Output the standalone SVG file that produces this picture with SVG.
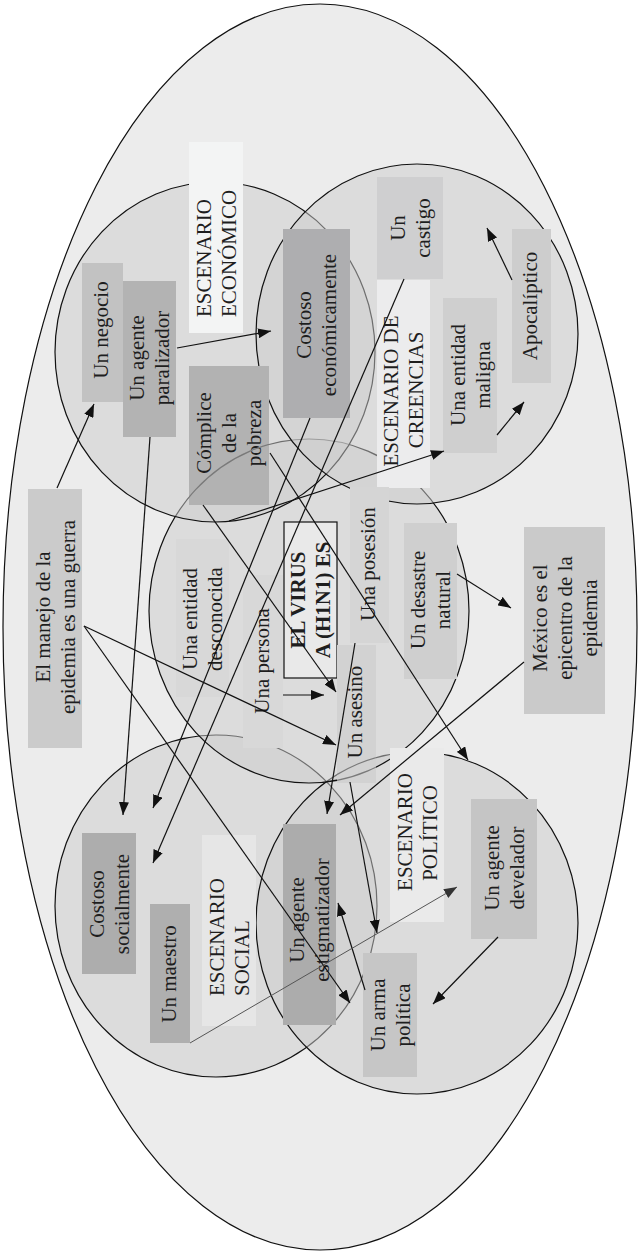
<svg xmlns="http://www.w3.org/2000/svg" width="639" height="1254" viewBox="0 0 639 1254">
<style>
.t{font-family:"Liberation Serif","Times New Roman",serif;font-size:21px;fill:#1e1e1e;text-anchor:middle}
.s{text-anchor:start}
.b{font-weight:bold}
.c{fill:#cccccc;fill-opacity:0.5;stroke:#111;stroke-width:1.2}
.g{fill:none;stroke:#7a7a7a;stroke-width:1.2}
.cn line{stroke:#111;stroke-width:1.2;fill:none;marker-end:url(#ah)}
.cn line.gr{stroke:#555;stroke-width:1;marker-end:url(#ahg)}
</style>
<defs>
<marker id="ah" markerUnits="userSpaceOnUse" markerWidth="14" markerHeight="10" refX="13" refY="5" orient="auto"><path d="M0,0 L13,5 L0,10 z" fill="#111"/></marker>
<marker id="ahg" markerUnits="userSpaceOnUse" markerWidth="14" markerHeight="10" refX="13" refY="5" orient="auto"><path d="M0,0 L13,5 L0,10 z" fill="#333"/></marker>
<clipPath id="bx"><rect x="189" y="366" width="80" height="139"/><rect x="337" y="645" width="39" height="138"/></clipPath>
</defs>
<g id="outer"><ellipse cx="320" cy="627" rx="317" ry="623" fill="#ececec" stroke="#111" stroke-width="1.2"/></g>
<g id="scenarios">
<ellipse id="c-social" class="c" cx="216" cy="906" rx="161" ry="171"/>
<ellipse id="c-politico" class="c" cx="417" cy="923" rx="161" ry="171"/>
<ellipse id="c-virus" class="c" cx="309" cy="611" rx="160" ry="172"/>
<ellipse id="c-economico" class="c" cx="215" cy="352" rx="160" ry="170"/>
<ellipse id="c-creencias" class="c" cx="417" cy="334" rx="161" ry="170"/>
</g>
<g id="n-negocio"><rect x="82" y="263" width="41" height="139" fill="#c2c2c2"/><text class="t" transform="translate(108,330) rotate(-90)">Un negocio</text></g>
<g id="n-paralizador"><rect x="123" y="281" width="53" height="156" fill="#b3b3b3"/><text class="t" transform="translate(144,358) rotate(-90)">Un agente</text><text class="t" transform="translate(169,358) rotate(-90)">paralizador</text></g>
<g id="n-esc-economico"><rect x="189" y="142" width="54" height="191" fill="#f3f4f4"/><text class="t s" transform="translate(210.5,317) rotate(-90)">ESCENARIO</text><text class="t s" transform="translate(235.5,317) rotate(-90)">ECONÓMICO</text></g>
<g id="n-costoso-eco"><rect x="283" y="229" width="67" height="189" fill="#aeaeb0"/><text class="t" transform="translate(311,325) rotate(-90)">Costoso</text><text class="t" transform="translate(336,325) rotate(-90)">económicamente</text></g>
<g id="n-complice"><rect x="189" y="366" width="80" height="139" fill="#b2b2b2"/><text class="t" transform="translate(211,433) rotate(-90)">Cómplice</text><text class="t" transform="translate(236,433) rotate(-90)">de la</text><text class="t" transform="translate(261,433) rotate(-90)">pobreza</text></g>
<g id="n-castigo"><rect x="377" y="177" width="66" height="102" fill="#cfcfd0"/><text class="t" transform="translate(404.5,228) rotate(-90)">Un</text><text class="t" transform="translate(429.5,228) rotate(-90)">castigo</text></g>
<g id="n-esc-creencias"><rect x="377" y="280" width="53" height="208" fill="#ececed"/><text class="t" transform="translate(398,391) rotate(-90)">ESCENARIO DE</text><text class="t" transform="translate(423,390) rotate(-90)">CREENCIAS</text></g>
<g id="n-maligna"><rect x="443" y="298" width="54" height="155" fill="#cfcfcf"/><text class="t" transform="translate(464.5,375) rotate(-90)">Una entidad</text><text class="t" transform="translate(489.5,375) rotate(-90)">maligna</text></g>
<g id="n-apocaliptico"><rect x="512" y="229" width="39" height="154" fill="#cdcdcd"/><text class="t" transform="translate(537,306) rotate(-90)">Apocalíptico</text></g>
<g id="n-guerra"><rect x="28" y="489" width="54" height="259" fill="#cbcbcb"/><text class="t" transform="translate(49.5,617) rotate(-90)">El manejo de la</text><text class="t" transform="translate(74.5,617) rotate(-90)">epidemia es una guerra</text></g>
<g id="n-desconocida"><rect x="176" y="539" width="53" height="158" fill="#d8d8d8"/><text class="t" transform="translate(197,619) rotate(-90)">Una entidad</text><text class="t" transform="translate(222,619) rotate(-90)">desconocida</text></g>
<g id="n-persona"><rect x="243" y="575" width="40" height="173" fill="#d8d8d8"/><text class="t" transform="translate(269,661) rotate(-90)">Una persona</text></g>
<g id="n-virus"><rect x="284" y="522" width="53" height="156" fill="#e9e9e9" stroke="#111" stroke-width="1.2"/><text class="t b" transform="translate(305,600) rotate(-90)">EL VIRUS</text><text class="t b" transform="translate(330,600) rotate(-90)">A (H1N1) ES</text></g>
<g id="n-posesion"><rect x="350" y="487" width="39" height="156" fill="#d5d5d5"/><text class="t" transform="translate(375,564) rotate(-90)">Una posesión</text></g>
<g id="n-asesino"><rect x="337" y="645" width="39" height="138" fill="#d2d2d2"/><text class="t" transform="translate(362,712) rotate(-90)">Un asesino</text></g>
<g id="n-desastre"><rect x="404" y="523" width="53" height="156" fill="#cfcfcf"/><text class="t" transform="translate(425,600) rotate(-90)">Un desastre</text><text class="t" transform="translate(450,600) rotate(-90)">natural</text></g>
<g id="n-mexico"><rect x="524" y="527" width="81" height="187" fill="#cacaca"/><text class="t" transform="translate(546.5,618) rotate(-90)">México es el</text><text class="t" transform="translate(571.5,618) rotate(-90)">epicentro de la</text><text class="t" transform="translate(596.5,618) rotate(-90)">epidemia</text></g>
<g id="n-esc-politico"><rect x="390" y="748" width="54" height="174" fill="#eaeaea"/><text class="t" transform="translate(411.5,832) rotate(-90)">ESCENARIO</text><text class="t" transform="translate(436.5,833) rotate(-90)">POLÍTICO</text></g>
<g id="n-develador"><rect x="471" y="799" width="66" height="140" fill="#c5c5c5"/><text class="t" transform="translate(498.5,868) rotate(-90)">Un agente</text><text class="t" transform="translate(523.5,868) rotate(-90)">develador</text></g>
<g id="n-costoso-soc"><rect x="82" y="833" width="54" height="141" fill="#adadad"/><text class="t" transform="translate(103.5,904) rotate(-90)">Costoso</text><text class="t" transform="translate(128.5,904) rotate(-90)">socialmente</text></g>
<g id="n-maestro"><rect x="150" y="904" width="40" height="139" fill="#afafaf"/><text class="t" transform="translate(176,974) rotate(-90)">Un maestro</text></g>
<g id="n-esc-social"><rect x="202" y="835" width="54" height="191" fill="#e6e6e6"/><text class="t s" transform="translate(223.5,996) rotate(-90)">ESCENARIO</text><text class="t s" transform="translate(248.5,996) rotate(-90)">SOCIAL</text></g>
<g id="n-estigmatizador"><rect x="283" y="824" width="53" height="201" fill="#acacac"/><text class="t" transform="translate(304,920) rotate(-90)">Un agente</text><text class="t" transform="translate(329,920) rotate(-90)">estigmatizador</text></g>
<g id="n-arma"><rect x="363" y="953" width="54" height="124" fill="#c6c6c6"/><text class="t" transform="translate(384.5,1015) rotate(-90)">Un arma</text><text class="t" transform="translate(409.5,1015) rotate(-90)">política</text></g>
<g id="arcs-over-boxes" clip-path="url(#bx)">
<ellipse class="g" cx="216" cy="906" rx="161" ry="171"/>
<ellipse class="g" cx="417" cy="923" rx="161" ry="171"/>
<ellipse class="g" cx="309" cy="611" rx="160" ry="172"/>
</g>
<g id="connectors" class="cn">
<line x1="57" y1="488" x2="94" y2="404"/>
<line x1="177" y1="348" x2="271" y2="331"/>
<line x1="150" y1="437" x2="123" y2="815"/>
<line x1="310" y1="418" x2="153" y2="808"/>
<line x1="404" y1="279" x2="153" y2="863"/>
<line x1="203" y1="505" x2="336" y2="692"/>
<line x1="270" y1="453" x2="468" y2="760"/>
<line x1="229" y1="521" x2="444" y2="451"/>
<line x1="497" y1="435" x2="524" y2="402"/>
<line x1="512" y1="280" x2="487" y2="228"/>
<line x1="457" y1="574" x2="511" y2="608"/>
<line x1="524" y1="662" x2="340" y2="815"/>
<line x1="283" y1="695" x2="324" y2="695"/>
<line x1="84" y1="626" x2="336" y2="745"/>
<line x1="84" y1="626" x2="350" y2="1003"/>
<line x1="355" y1="643" x2="327" y2="814"/>
<line x1="350" y1="782" x2="377" y2="933"/>
<line x1="365" y1="990" x2="338" y2="903"/>
<line x1="498" y1="937" x2="433" y2="1004"/>
<line class="gr" x1="190" y1="1043" x2="457" y2="887"/>
</g>
</svg>
